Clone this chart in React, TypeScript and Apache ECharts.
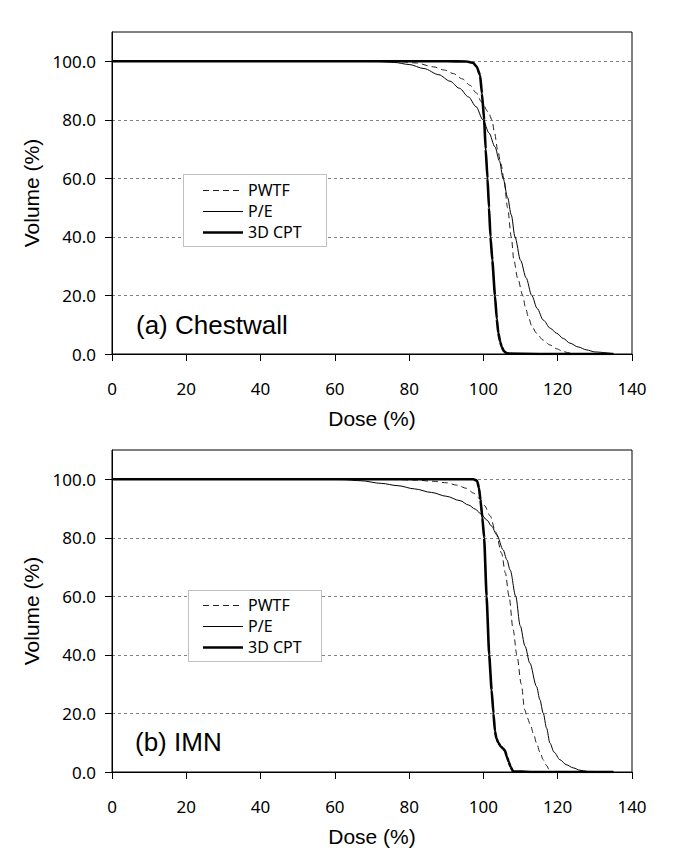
import React, { useEffect, useRef } from "react";
import * as echarts from "echarts";

// ---- Axis ticks / labels ----
const xTickValues = [0, 20, 40, 60, 80, 100, 120, 140];
const yTickValues = [0, 20, 40, 60, 80, 100];
const seriesNames = ["PWTF", "P/E", "3D CPT"];
const panelLabels = ["(a) Chestwall", "(b) IMN"];
const xAxisTitle = "Dose (%)";
const yAxisTitle = "Volume (%)";

// ---- (a) Chestwall ----
const chestPwtfDose = [0, 60, 77.5, 82, 86.5, 89.5, 91.9, 94.3, 96.4, 98, 99.5, 101.3, 102.3, 103, 103.8, 104.7, 105.5, 106.5, 107.5, 108.2, 109.2, 110.6, 111.3, 112.1, 113, 114.3, 116, 117.9, 119.7, 121.5, 123.5, 125];
const chestPwtfVol = [100, 100, 99.9, 99.4, 98.1, 97, 95.8, 94, 91.8, 89.3, 86.1, 82.7, 80, 75.5, 70, 65, 60, 50, 40, 32, 26, 20, 16, 12.7, 9.6, 7.1, 4.8, 3.1, 1.8, 0.8, 0.3, 0];

const chestPeDose = [0, 60, 72, 76, 80, 84, 88, 91, 93.5, 96, 98, 99.9, 101.5, 103.1, 104.3, 105.3, 106.5, 107.5, 108.5, 110, 111.5, 113, 114.5, 116.1, 118, 119.7, 121.5, 123.3, 125.5, 127.8, 130, 135];
const chestPeVol = [100, 100, 99.9, 99.6, 98.9, 97.5, 95.4, 93.2, 90.8, 87.8, 84.5, 80, 75.5, 70.8, 66, 60, 53.5, 47.5, 40, 32, 26, 20, 15.5, 11.6, 8.8, 7.1, 5.3, 3.7, 2.4, 1.4, 0.7, 0.1];

const chestCptDose = [0, 50, 90, 95.5, 97.3, 98.2, 99.1, 99.6, 100.2, 100.6, 101.1, 101.5, 101.9, 102.4, 103.1, 103.6, 104.0, 104.5, 104.9, 105.5, 106.3, 115, 135];
const chestCptVol = [100, 100, 100, 99.9, 99.4, 98.1, 95.2, 89, 80, 70, 60, 50, 40, 32, 20, 12, 7.2, 4.2, 2.5, 1.0, 0.2, 0, 0];

// ---- (b) IMN ----
const imnPwtfDose = [0, 60, 76.5, 82, 86.5, 90.1, 92.8, 95.5, 97.3, 99, 100.3, 101.8, 103.3, 104.9, 105.9, 106.9, 108, 109, 110.2, 111.1, 111.8, 112.6, 113.5, 114.3, 115.2, 116.1, 117, 117.7, 118.5];
const imnPwtfVol = [100, 100, 99.9, 99.7, 99.3, 98.8, 98, 96.9, 95.3, 93.4, 91, 87.5, 82, 74.7, 68, 60, 48.6, 40, 30, 21.3, 18.5, 16.3, 13, 9.9, 6.8, 4.2, 2.2, 0.8, 0];

const imnPeDose = [0, 55, 62, 67, 72.5, 77, 81.5, 86, 90, 93.7, 96, 97.8, 99.3, 100.9, 102.2, 103.6, 105.3, 106.3, 107.2, 108.7, 109.9, 111.2, 112.5, 114.3, 115.2, 116.1, 117, 117.9, 119, 120.6, 122.3, 124.2, 126, 128, 135];
const imnPeVol = [100, 100, 99.9, 99.5, 98.6, 97.8, 96.7, 95.5, 94.2, 92.7, 91.2, 89.8, 88.2, 86.1, 84, 81, 75.9, 72.5, 69, 60, 50, 43, 37.2, 29.2, 24.7, 20.1, 15, 9.9, 6.8, 4.2, 2.5, 1.4, 0.6, 0.2, 0];

const imnCptDose = [0, 50, 90, 97.3, 98.3, 98.8, 99.2, 99.7, 100.2, 100.85, 101.55, 102.2, 102.7, 103.1, 103.5, 104.0, 104.6, 105.3, 105.8, 106.3, 106.8, 107.3, 108, 115, 135];
const imnCptVol = [100, 100, 100, 100, 99.5, 97, 93, 87, 80, 60, 40, 28, 20, 14, 11.5, 10, 8.8, 8, 7.3, 5.3, 3.5, 1.8, 0.2, 0, 0];

const zip = (d: number[], v: number[]) => d.map((x, i) => [x, v[i]]);

const TICK_FONT = "Noto Sans";
const TITLE_FONT = "Liberation Sans";

const lineStyles: any = {
  PWTF: { color: "#222", width: 1, type: [6, 4] },
  "P/E": { color: "#000", width: 1, type: "solid" },
  "3D CPT": { color: "#000", width: 2.6, type: "solid" },
};

export default function App() {
  const ref = useRef<HTMLDivElement>(null);
  useEffect(() => {
    if (!ref.current) return;
    const chart = echarts.init(ref.current, null, { renderer: "svg" });

    const grids = [
      { left: 112, right: 45, top: 32, height: 322 },
      { left: 112, right: 45, top: 450, height: 322 },
    ];

    const makeX = (gi: number) => ({
      type: "value",
      gridIndex: gi,
      min: 0,
      max: 140,
      interval: 20,
      name: xAxisTitle,
      nameLocation: "middle",
      nameGap: 54,
      nameTextStyle: { fontFamily: TITLE_FONT, fontSize: 21, color: "#000" },
      axisLine: { show: true, onZero: false, lineStyle: { color: "#000", width: 1 } },
      axisTick: { show: true, inside: false, length: 7, customValues: xTickValues, lineStyle: { color: "#000" } },
      axisLabel: { margin: 26, fontFamily: TICK_FONT, fontSize: 17, color: "#000", customValues: xTickValues },
      splitLine: { show: false },
    });

    const makeY = (gi: number) => ({
      type: "value",
      gridIndex: gi,
      min: 0,
      max: 110,
      interval: 20,
      name: yAxisTitle,
      nameLocation: "middle",
      nameGap: 70,
      nameTextStyle: { fontFamily: TITLE_FONT, fontSize: 21, color: "#000" },
      axisLine: { show: true, onZero: false, lineStyle: { color: "#000", width: 1 } },
      axisTick: {
        show: true,
        inside: false,
        length: 7,
        customValues: yTickValues,
        lineStyle: { color: "#000" },
      },
      axisLabel: {
        margin: 16,
        fontFamily: TICK_FONT,
        fontSize: 17,
        color: "#000",
        customValues: yTickValues,
        formatter: (v: number) => v.toFixed(1),
      },
      splitLine: { show: true, lineStyle: { color: "#808080", width: 1, type: [3, 3] } },
    });

    const panels = [
      [zip(chestPwtfDose, chestPwtfVol), zip(chestPeDose, chestPeVol), zip(chestCptDose, chestCptVol)],
      [zip(imnPwtfDose, imnPwtfVol), zip(imnPeDose, imnPeVol), zip(imnCptDose, imnCptVol)],
    ];

    const series: any[] = [];
    panels.forEach((panel, gi) => {
      panel.forEach((data, si) => {
        const name = seriesNames[si];
        series.push({
          type: "line",
          name,
          xAxisIndex: gi,
          yAxisIndex: gi,
          data,
          symbol: "none",
          showSymbol: false,
          smooth: si === 2 ? 0.15 : 0.3,
          smoothMonotone: "x",
          lineStyle: lineStyles[name],
          z: si === 2 ? 3 : 2,
        });
      });
    });

    // Legend boxes (dotted border, white fill) with line samples and labels
    const legends = [
      { x: 183, y: 174, w: 143, h: 72, rows: [190, 211, 232], lineX: 203 },
      { x: 188, y: 590, w: 133, h: 71, rows: [605, 626, 647], lineX: 203 },
    ];
    const labelPos = [
      { x: 136, y: 325 },
      { x: 135, y: 742 },
    ];

    const graphic: any[] = [];
    legends.forEach((b) => {
      graphic.push({
        type: "rect",
        z: 5,
        shape: { x: b.x + 0.5, y: b.y + 0.5, width: b.w, height: b.h },
        style: { fill: "#fff", stroke: "#808080", lineWidth: 1, lineDash: [1, 1] },
      });
      seriesNames.forEach((name, i) => {
        const ls = lineStyles[name];
        graphic.push({
          type: "line",
          z: 6,
          shape: { x1: b.lineX, y1: b.rows[i] + 0.5, x2: b.lineX + 40, y2: b.rows[i] + 0.5 },
          style: {
            stroke: ls.color,
            lineWidth: ls.width,
            lineDash: Array.isArray(ls.type) ? ls.type : null,
          },
        });
        graphic.push({
          type: "text",
          z: 6,
          x: b.lineX + 45,
          y: b.rows[i],
          style: {
            text: name,
            fontFamily: TICK_FONT,
            fontSize: 16,
            fill: "#000",
            verticalAlign: "middle",
            align: "left",
          },
        });
      });
    });
    panelLabels.forEach((t, i) => {
      graphic.push({
        type: "text",
        z: 6,
        x: labelPos[i].x,
        y: labelPos[i].y,
        style: {
          text: t,
          fontFamily: TITLE_FONT,
          fontSize: 26,
          fill: "#000",
          verticalAlign: "middle",
          align: "left",
        },
      });
    });

    chart.setOption({
      animation: false,
      backgroundColor: "#fff",
      grid: grids.map((g) => ({ ...g, show: true, borderColor: "#000", borderWidth: 1, backgroundColor: "transparent" })),
      xAxis: [makeX(0), makeX(1)],
      yAxis: [makeY(0), makeY(1)],
      graphic,
      series,
    });

    return () => chart.dispose();
  }, []);

  return (
    <div
      ref={ref}
      style={{ position: "fixed", left: 0, top: 0, width: 677, height: 866, background: "#fff" }}
    />
  );
}
